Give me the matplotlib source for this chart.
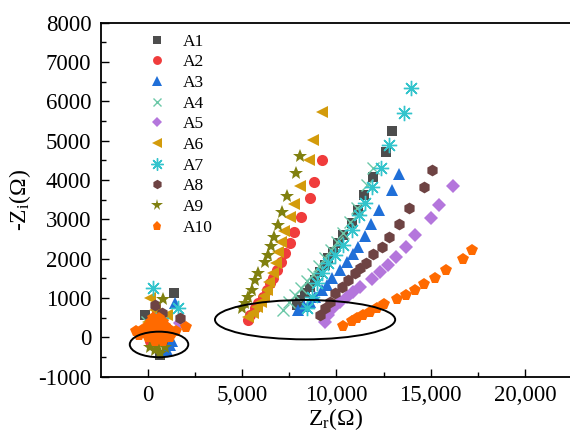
import matplotlib
matplotlib.use("Agg")
import matplotlib.pyplot as plt
from matplotlib.patches import Ellipse
from matplotlib.ticker import MultipleLocator, FuncFormatter

plt.rcParams['font.family'] = ['Liberation Serif', 'DejaVu Serif']
plt.rcParams['mathtext.fontset'] = 'custom'
plt.rcParams['mathtext.rm'] = 'Liberation Serif'
plt.rcParams['mathtext.it'] = 'Liberation Serif:italic'

labels = ['A1', 'A2', 'A3', 'A4', 'A5', 'A6', 'A7', 'A8', 'A9', 'A10']
markers = ['s', 'o', '^', 'x', 'D', '<', (8, 2, 0), 'h', '*', 'p']
colors = ['#4D4D4D', '#F03C3C', '#1F6FD8', '#6CC8A8', '#B476DC',
          '#D39B0B', '#33C4CC', '#6E4343', '#80800F', '#FF6A00']
msizes = [7.5, 8, 8.5, 8, 7, 8.5, 11, 8.5, 10.5, 8.5]

# Zr (ohm) and -Zi (ohm) for each sample: high-frequency cluster + low-frequency branch
A1_x = [1410, -143, 652, 300, 800,
        7897, 8072, 8337, 8602, 8867, 9132, 9397, 9572, 9837, 10102, 10367, 10812, 11146, 11480, 11925, 12614, 12948]
A1_y = [1122, 570, -448, 200, -100,
        825, 952, 1122, 1290, 1461, 1672, 1843, 2013, 2181, 2395, 2606, 2899, 3230, 3624, 4082, 4718, 5235]
A2_x = [500, 200, 100, 800,
        5332, 5422, 5687, 5862, 6127, 6307, 6482, 6657, 6837, 7065, 7277, 7542, 7770, 8125, 8602, 8830, 9254]
A2_y = [650, 400, -100, 200,
        443, 570, 741, 868, 1036, 1206, 1377, 1504, 1715, 1927, 2156, 2395, 2675, 3057, 3548, 3947, 4507]
A3_x = [1447, 1182, 1007, 1300, -100,
        7982, 8284, 8602, 8867, 9222, 9487, 9768, 10192, 10579, 10897, 11162, 11517, 11819, 12232, 12964, 13319]
A3_y = [868, -193, -320, -100, 300,
        697, 799, 909, 1036, 1206, 1334, 1504, 1715, 1927, 2123, 2308, 2581, 2886, 3230, 3734, 4151]
A4_x = [-53, 600, 1000, 300,
        7187, 7489, 7807, 8125, 8443, 8761, 9079, 9397, 9715, 10033, 10351, 10722, 11077, 11607, 11957]
A4_y = [400, 550, 100, -100,
        697, 901, 1079, 1257, 1435, 1614, 1817, 2021, 2224, 2428, 2657, 2937, 3286, 3879, 4304]
A5_x = [1712, 900, 400,
        9397, 9556, 9837, 10192, 10547, 10897, 11252, 11872, 12312, 12752, 13160, 13674, 14167, 15015, 15450, 16197]
A5_y = [359, 300, 150,
        379, 570, 741, 909, 1036, 1163, 1290, 1486, 1672, 1843, 2054, 2293, 2606, 3039, 3370, 3861]
A6_x = [122, 1007, 400, 0,
        5332, 5600, 5800, 6000, 6150, 6300, 6450, 6657, 6784, 6922, 7065, 7240, 7515, 7770, 8056, 8533, 8777, 9222]
A6_y = [995, 570, 700, 400,
        527, 620, 760, 900, 1050, 1200, 1400, 1631, 1886, 2181, 2436, 2716, 3064, 3395, 3861, 4507, 5024, 5729]
A7_x = [297, 1622, 700, 200,
        8443, 8692, 8957, 9222, 9572, 9927, 10367, 10812, 11215, 11517, 11872, 12349, 12805, 13584, 13955]
A7_y = [1250, 741, 500, 200,
        748, 1036, 1377, 1631, 1886, 2097, 2352, 2733, 3115, 3413, 3835, 4304, 4879, 5703, 6340]
A8_x = [387, 742, 1712, 100,
        9132, 9397, 9662, 9927, 10282, 10632, 10987, 11252, 11570, 11957, 12402, 12805, 13319, 13838, 14660, 15084]
A8_y = [825, 613, 486, 300,
        570, 748, 909, 1122, 1290, 1461, 1631, 1766, 1901, 2123, 2308, 2563, 2886, 3281, 3828, 4260]
A9_x = [827, 122, 387, 652, 212, 500, 900,
        4982, 5157, 5332, 5512, 5687, 5862, 6217, 6392, 6535, 6694, 6890, 7134, 7399, 7833, 8072]
A9_y = [977, -237, -320, -405, 316, -200, -250,
        741, 868, 1036, 1206, 1461, 1631, 1927, 2097, 2326, 2563, 2861, 3191, 3599, 4171, 4617]
A10_x = [2014, 300, 600, 200, 500, 800, 0, 300, 600, 900, -300, 0, 300, 600, 900, 1200,
         -200, 100, 400, 700, 1000, 1300, 0, 300, 600, 900, 1200, 400, 800, -600, 1500, -450,
         10367, 10812, 11077, 11427, 11782, 12137, 12524, 13229, 13690, 14167, 14628, 15211, 15810, 16727, 17204]
A10_y = [272, 500, 500, 400, 400, 400, 300, 300, 300, 300, 200, 200, 200, 200, 200, 200,
         100, 100, 100, 100, 100, 100, 0, 0, 0, 0, 0, -100, -100, 150, 150, 50,
         290, 425, 486, 570, 654, 741, 837, 970, 1079, 1214, 1354, 1519, 1715, 1995, 2217]

xs = [A1_x, A2_x, A3_x, A4_x, A5_x, A6_x, A7_x, A8_x, A9_x, A10_x]
ys = [A1_y, A2_y, A3_y, A4_y, A5_y, A6_y, A7_y, A8_y, A9_y, A10_y]

x_ticks = [0, 5000, 10000, 15000, 20000]
y_ticks = [-1000, 0, 1000, 2000, 3000, 4000, 5000, 6000, 7000, 8000]

# highlighted regions (center x, center y, width, height) in data units
ellipse_small = (600, -180, 3100, 650)
ellipse_large = (8340, 450, 9550, 1000)

fig = plt.figure(figsize=(5.70, 4.34), dpi=100)
ax = fig.add_axes([101/570, 1 - 376.7/434, 1 - 101/570, (376.7 - 22.7)/434])

for x, y, lab, m, c, ms in zip(xs, ys, labels, markers, colors, msizes):
    mew = 1.0 if m in ('x', (8, 2, 0)) else 0
    ax.plot(x, y, linestyle='none', marker=m, color=c, markersize=ms,
            markeredgewidth=mew, label=lab)

for (cx, cy, w, h) in (ellipse_small, ellipse_large):
    ax.add_patch(Ellipse((cx, cy), w, h, fill=False, edgecolor='black', linewidth=1.4, zorder=5))

ax.set_xlim(-2475, 22380)
ax.set_ylim(-1000, 8000)
ax.set_xticks(x_ticks)
ax.set_yticks(y_ticks)
ax.xaxis.set_minor_locator(MultipleLocator(2500))
ax.yaxis.set_minor_locator(MultipleLocator(500))
ax.xaxis.set_major_formatter(FuncFormatter(lambda v, p: f"{int(v):,}"))
ax.yaxis.set_major_formatter(FuncFormatter(lambda v, p: f"{int(v)}"))
ax.tick_params(which='both', direction='in', top=False, right=False)
ax.tick_params(which='major', length=6, width=1.0, labelsize=16.5)
ax.tick_params(axis='y', which='major', pad=7)
ax.tick_params(axis='x', which='major', pad=6)
ax.tick_params(which='minor', length=3.5, width=1.0)
ax.spines['right'].set_visible(False)
for s in ('top', 'left', 'bottom'):
    ax.spines[s].set_linewidth(1.3)

ax.set_xlabel('Z$_{\\mathrm{r}}$(Ω)', fontsize=17, labelpad=0)
ax.set_ylabel('-Z$_{\\mathrm{i}}$(Ω)', fontsize=17, labelpad=4)

ax.legend(loc='upper left', bbox_to_anchor=(148.3/570, 1 - 33.5/434),
          bbox_transform=fig.transFigure, frameon=False, fontsize=12.5,
          handlelength=1.0, handletextpad=1.0, labelspacing=0.26,
          borderpad=0, borderaxespad=0, markerscale=0.8)

fig.savefig('out.png', dpi=100)
